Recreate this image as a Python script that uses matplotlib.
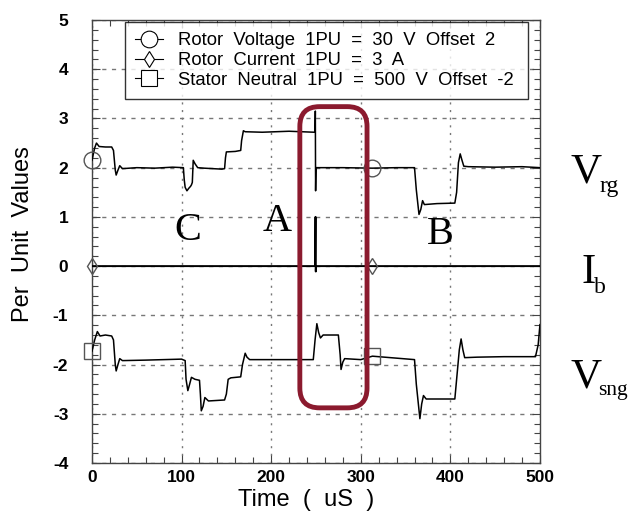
import numpy as np
import matplotlib.pyplot as plt
from matplotlib.lines import Line2D
from matplotlib.patches import FancyBboxPatch

plt.rcParams['font.family'] = ['Liberation Sans', 'DejaVu Sans']
plt.rcParams['axes.unicode_minus'] = False

# --- data (time in uS, per-unit values) ---
vrg_t = [0, 3, 5, 8, 15, 22, 24, 26, 27, 29, 31, 34, 50, 70, 90, 102, 103, 104, 106, 108,
         110, 111, 112, 113, 115, 118, 125, 135, 145, 148, 149, 150, 160, 166, 167, 169,
         171, 190, 220, 248, 249, 249.3, 249.6, 250, 280, 313, 340, 360, 362, 365, 367,
         369, 371, 385, 405, 407, 409, 411, 413, 415, 420, 450, 480, 500]
vrg_v = [2.15, 2.40, 2.50, 2.43, 2.42, 2.42, 2.35, 1.95, 1.85, 1.95, 2.04, 1.98, 2.00, 1.99,
         2.01, 2.00, 1.75, 1.60, 1.53, 1.58, 1.62, 1.65, 1.70, 2.15, 2.08, 2.00, 1.99,
         1.98, 1.97, 1.98, 2.20, 2.32, 2.33, 2.35, 2.55, 2.75, 2.73, 2.72, 2.74, 2.72,
         2.72, 3.15, 1.53, 2.00, 2.00, 1.99, 2.00, 2.00, 1.55, 1.05, 1.15, 1.33, 1.25,
         1.27, 1.28, 1.50, 2.10, 2.28, 2.15, 2.03, 2.02, 2.01, 2.02, 2.00]

ib_t = [0, 100, 200, 249, 249.5, 249.8, 250, 313, 400, 500]
ib_v = [0.0, 0.0, 0.0, 0.0, 1.0, -0.11, 0.0, 0.0, 0.0, 0.0]

vsng_t = [0, 3, 6, 9, 15, 22, 24, 26, 27, 29, 31, 34, 60, 100, 104, 105, 107, 109, 111,
          115, 120, 121, 122, 124, 126, 130, 148, 150, 152, 155, 166, 168, 171, 173, 176,
          200, 247, 249, 251, 253, 255, 258, 275, 277, 278, 280, 282, 300, 313, 360, 362,
          366, 368, 370, 373, 405, 407, 410, 412, 414, 416, 430, 460, 495, 498, 500]
vsng_v = [-1.73, -1.50, -1.33, -1.42, -1.40, -1.42, -1.50, -2.00, -2.13, -2.00, -1.88,
          -1.92, -1.91, -1.89, -1.92, -2.30, -2.53, -2.40, -2.26, -2.30, -2.32, -2.60,
          -2.94, -2.85, -2.67, -2.74, -2.72, -2.60, -2.30, -2.27, -2.25, -2.00, -1.77,
          -1.85, -1.90, -1.90, -1.90, -1.50, -1.17, -1.35, -1.46, -1.40, -1.40, -1.80,
          -2.10, -1.95, -1.88, -1.90, -1.83, -1.90, -2.40, -3.10, -2.80, -2.63, -2.70,
          -2.70, -2.30, -1.70, -1.48, -1.70, -1.86, -1.85, -1.84, -1.84, -1.60, -1.19]

marker_times = [0, 313]

labels = ["Rotor  Voltage  1PU  =  30  V  Offset  2",
          "Rotor  Current  1PU  =  3  A",
          "Stator  Neutral  1PU  =  500  V  Offset  -2"]

fig = plt.figure(figsize=(6.33, 5.13), dpi=100)
ax = fig.add_axes([0.1453, 0.0975, 0.7077, 0.8635])

series = [(vrg_t, vrg_v, 'o', 12), (ib_t, ib_v, 'd', 8), (vsng_t, vsng_v, 's', 11)]
handles = []
for (t, v, mk, ms), lab in zip(series, labels):
    idx = [int(np.searchsorted(t, m)) for m in marker_times]
    ax.plot(t, v, color='black', lw=1.1 if mk != 'd' else 1.4, zorder=3)
    ax.plot(np.array(t)[idx], np.array(v)[idx], ls='none', marker=mk, ms=ms,
            mfc='none', mec='#555555', mew=1.0, zorder=4, clip_on=False)
    handles.append(Line2D([], [], color='black', lw=0.8, marker=mk, ms=ms,
                          mfc='white', mec='black', mew=0.8, label=lab))

ax.set_xlim(0, 500)
ax.set_ylim(-4, 5)
ax.set_xticks(np.arange(0, 501, 100))
ax.set_yticks(np.arange(-4, 6, 1))
ax.set_xticks(np.arange(0, 501, 20), minor=True)
ax.set_yticks(np.arange(-4, 5.01, 0.2), minor=True)
ax.tick_params(which='both', direction='in', top=True, right=True, color='#444444')
ax.tick_params(which='major', length=6, width=0.8, labelsize=12.5)
ax.tick_params(axis='x', which='major', pad=5)
ax.tick_params(axis='y', which='major', pad=17)
ax.tick_params(which='minor', length=4, width=0.8)
for lbl in ax.get_xticklabels() + ax.get_yticklabels():
    lbl.set_fontweight('bold')
for s in ax.spines.values():
    s.set_color('#444444')
    s.set_linewidth(1.0)

ax.xaxis.grid(True, which='major', ls=(0, (1.5, 4)), color='#777777', lw=1.0)
ax.yaxis.grid(True, which='major', ls=(0, (3, 4)), color='#777777', lw=1.0)
ax.set_axisbelow(True)

ax.set_xlabel("Time  (  uS  )", fontsize=17)
ax.set_ylabel("Per  Unit  Values", fontsize=17, va='center')
ax.xaxis.set_label_coords(0.478, -0.058)
ax.yaxis.set_label_coords(-0.154, 0.517)

leg = ax.legend(handles=handles, loc='upper left',
                bbox_to_anchor=(0.074, 0.995, 0.9, 0.0), mode='expand',
                fontsize=13.3, frameon=True, fancybox=False, edgecolor='black',
                handlelength=1.5, handletextpad=0.8, labelspacing=0.15,
                borderpad=0.55, borderaxespad=0)
leg.get_frame().set_linewidth(1.0)

# red highlight box around region A
box = FancyBboxPatch((232, -2.88), 75, 6.12,
                     boxstyle="round,pad=0,rounding_size=22",
                     mutation_aspect=0.0182, fill=False, edgecolor='#8B1A2E',
                     lw=3.5, zorder=5, clip_on=False)
ax.add_patch(box)

serif = ['Liberation Serif', 'DejaVu Serif']
ax.text(107, 0.73, "C", fontsize=29, ha='center', va='center', family=serif)
ax.text(207, 0.90, "A", fontsize=29, ha='center', va='center', family=serif)
ax.text(389, 0.65, "B", fontsize=29, ha='center', va='center', family=serif)

# signal names on the right: big letter plus subscript
names = [("V", "rg", 534, 1.70, 566, 1.50, 17),
         ("I", "b", 546, -0.34, 560, -0.55, 17),
         ("V", "sng", 534, -2.46, 565, -2.62, 15.5)]
for big, sub, x0, y0, x1, y1, fs in names:
    ax.text(x0, y0, big, fontsize=31, ha='left', va='baseline', family=serif,
            clip_on=False)
    ax.text(x1, y1, sub, fontsize=fs, ha='left', va='baseline', family=serif,
            clip_on=False)

fig.savefig("out.png", dpi=100)
